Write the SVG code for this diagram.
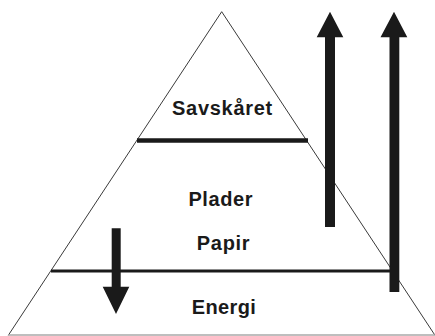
<svg xmlns="http://www.w3.org/2000/svg" width="435" height="336" viewBox="0 0 435 336">
<style>
.lbl{font-family:"Liberation Sans",Arial,Helvetica,sans-serif;font-weight:bold;font-size:20px;fill:#1a1a1a;text-anchor:middle}
.edge{stroke:#3a3a3a;stroke-width:1;fill:none}
.arrow{fill:#1a1a1a}
</style>
<rect width="435" height="336" fill="#ffffff"/>
<g id="pyramid">
<path class="edge" d="M8.3,335.3 L221.7,11.7 L435,335.3"/>
<line x1="8" y1="335" x2="435" y2="335" stroke="#a8a8a8" stroke-width="1.5"/>
<line x1="137" y1="140.5" x2="308" y2="140.5" stroke="#1a1a1a" stroke-width="4.5"/>
<line x1="51" y1="271" x2="392" y2="271" stroke="#1a1a1a" stroke-width="2.8"/>
</g>
<g id="savskaret"><text class="lbl" x="222.5" y="115" font-size="21" letter-spacing="0.7">Savskåret</text></g>
<g id="plader"><text class="lbl" x="220.8" y="206" letter-spacing="0.6">Plader</text></g>
<g id="papir"><text class="lbl" x="223.6" y="250" letter-spacing="0.7">Papir</text></g>
<g id="energi"><text class="lbl" x="224" y="314.3" letter-spacing="0.4">Energi</text></g>
<g id="connectors">
<path class="arrow" d="M325,227 L325,37.3 L316.7,37.3 L330,11.7 L343.3,37.3 L335,37.3 L335,227 Z"/>
<path class="arrow" d="M389.5,292 L389.5,37.3 L380.5,37.3 L394,11.7 L407.3,37.3 L399.3,37.3 L399.3,292 Z"/>
<path class="arrow" d="M111.7,228.3 L120.7,228.3 L120.7,286.7 L129.3,286.7 L116,314 L102.7,286.7 L111.7,286.7 Z"/>
</g>
</svg>
